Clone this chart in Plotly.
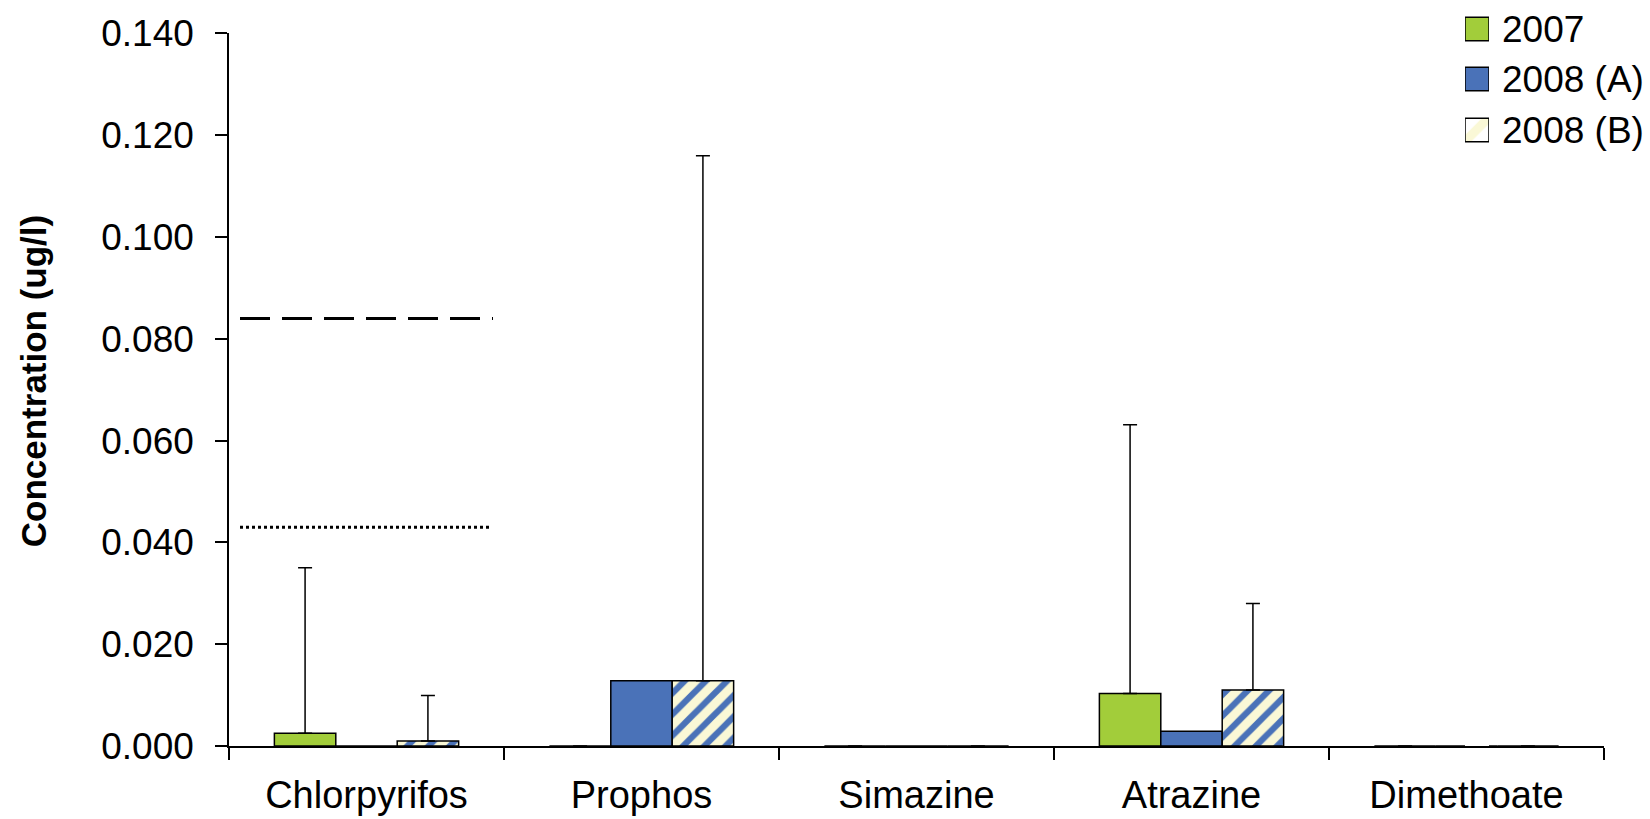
import plotly.graph_objects as go

categories = ["Chlorpyrifos", "Prophos", "Simazine", "Atrazine", "Dimethoate"]
series_names = ["2007", "2008 (A)", "2008 (B)"]
values_2007 = [0.0025, 0.0, 0.0, 0.0103, 0.0]
values_2008a = [0.0, 0.0128, 0.0, 0.0029, 0.0]
values_2008b = [0.001, 0.0128, 0.0, 0.011, 0.0]
err_2007 = [0.0325, None, None, 0.0528, None]
err_2008a = [None, None, None, None, None]
err_2008b = [0.0089, 0.1032, None, 0.017, None]
guideline_dashed = 0.084
guideline_dotted = 0.043
ytick_vals = [0.0, 0.02, 0.04, 0.06, 0.08, 0.10, 0.12, 0.14]
y_title = "Concentration (ug/l)"

GREEN = "#A2CD3A"
BLUE = "#4A72B8"
CREAM = "#FAF8D6"
FONT = "Liberation Sans, Arial, sans-serif"

W, H = 1650, 819
L, R, T = 229, 46, 0
y_zero_px = 746.5
y_top_px = 33.5  # pixel row of 0.140
B = H - y_zero_px
plot_w = W - L - R
plot_h = H - T - B
main_domain_top = (y_zero_px - y_top_px) / plot_h

PATTERN = dict(shape="/", fgcolor=BLUE, bgcolor=CREAM, size=15, solidity=0.42,
               fgopacity=1, fillmode="replace")

fig = go.Figure()

def err(vals):
    return dict(type="data", symmetric=False, array=vals,
                arrayminus=[0 if v is not None else None for v in vals],
                color="black", thickness=1.5, width=7)

outline = dict(color="black", width=1.5)
fig.add_trace(go.Bar(name=series_names[0], x=categories, y=values_2007,
                     marker=dict(color=GREEN, line=outline),
                     error_y=err(err_2007)))
fig.add_trace(go.Bar(name=series_names[1], x=categories, y=values_2008a,
                     marker=dict(color=BLUE, line=outline)))
fig.add_trace(go.Bar(name=series_names[2], x=categories, y=values_2008b,
                     marker=dict(color=CREAM, line=outline, pattern=PATTERN),
                     error_y=err(err_2008b)))

# ---- custom legend (swatches on an inset pixel-like axis) ----
legend_rows_px = [29, 79, 130]
sw = 23.5
fig.add_trace(go.Bar(
    orientation="h", x=[1, 1, 1], y=legend_rows_px, width=[sw] * 3,
    xaxis="x2", yaxis="y2", showlegend=False, hoverinfo="skip",
    marker=dict(color=[GREEN, BLUE, CREAM], line=outline,
                pattern=dict(shape=["", "", "/"], fgcolor=BLUE, bgcolor=CREAM,
                             size=20, solidity=0.45, fgopacity=1, fillmode="replace")),
))
sw_x0, sw_x1 = 1465, 1489
for name, ypx in zip(series_names, legend_rows_px):
    fig.add_annotation(text=name, xref="paper", yref="y2",
                       x=(1500 - L) / plot_w, y=ypx + 1, xanchor="left", yanchor="middle",
                       showarrow=False, font=dict(size=37, color="black"))

# y-axis title
fig.add_annotation(text="<b>" + y_title + "</b>", xref="paper", yref="y2",
                   x=(33 - L) / plot_w, y=381.5, xanchor="center", yanchor="middle",
                   textangle=-90, showarrow=False, font=dict(size=35, color="black"))

fig.add_shape(type="line", xref="x", yref="y", x0=-0.46, x1=0.46,
              y0=guideline_dashed, y1=guideline_dashed,
              line=dict(color="black", width=3, dash="30px,12px"))
fig.add_shape(type="line", xref="x", yref="y", x0=-0.46, x1=0.455,
              y0=guideline_dotted, y1=guideline_dotted,
              line=dict(color="black", width=3, dash="3px,3px"))

fig.update_layout(
    width=W, height=H,
    margin=dict(l=L, r=R, t=T, b=B, autoexpand=False),
    plot_bgcolor="white", paper_bgcolor="white",
    barmode="group", bargap=0.33, bargroupgap=0,
    font=dict(family=FONT, size=37, color="black"),
    showlegend=False,
    xaxis2=dict(domain=[(sw_x0 - L) / plot_w, (sw_x1 - L) / plot_w], range=[0, 1],
                anchor="y2", visible=False, fixedrange=True),
    yaxis2=dict(domain=[0, 1], range=[plot_h + T, T], anchor="x2", visible=False,
                fixedrange=True),
    xaxis=dict(
        type="category", range=[-0.5, 4.5], showline=True, linecolor="black", linewidth=1.5,
        ticks="outside", tickson="boundaries", ticklen=12, tickwidth=1.5, tickcolor="black",
        showgrid=False, zeroline=False, tickfont=dict(size=38), ticklabelstandoff=15,
        automargin=False, anchor="y",
    ),
    yaxis=dict(
        domain=[0, main_domain_top],
        range=[0, 0.14], tickvals=ytick_vals, tickformat=".3f",
        showline=True, linecolor="black", linewidth=1.5,
        ticks="outside", ticklen=12, tickwidth=1.5, tickcolor="black",
        showgrid=False, zeroline=False, tickfont=dict(size=37), ticklabelstandoff=14,
        automargin=False, anchor="x",
    ),
)

fig.write_html(
    "out.html",
    config={"displayModeBar": False},
    post_script="document.body.style.margin='0px';document.body.style.overflow='hidden';",
)
